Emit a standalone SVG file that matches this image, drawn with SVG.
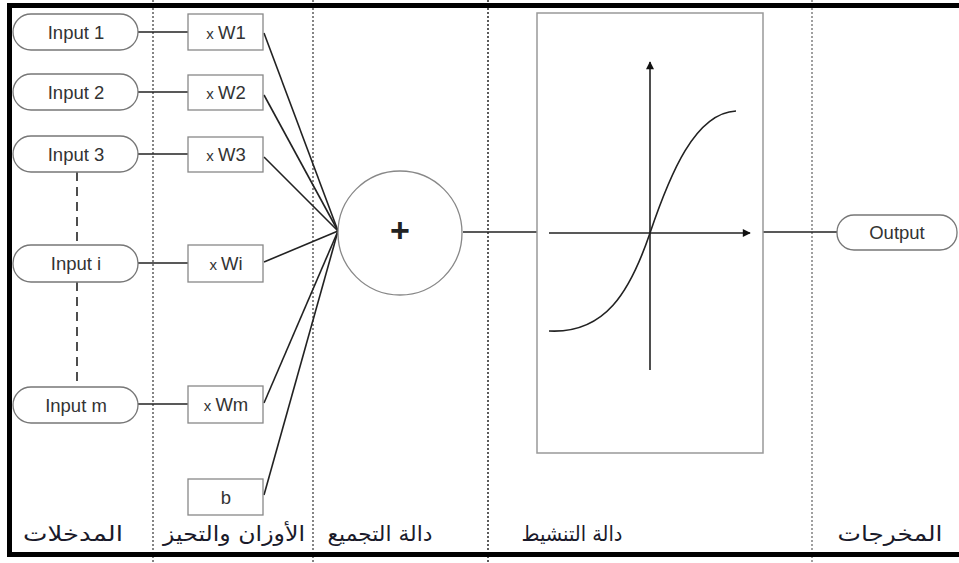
<svg xmlns="http://www.w3.org/2000/svg" width="959" height="563" viewBox="0 0 959 563">
<style>
.pill{fill:#fff;stroke:#777;stroke-width:1.3}
.box{fill:#fff;stroke:#888;stroke-width:1.3}
.t{font-family:"Liberation Sans",Arial,sans-serif;font-size:18.5px;fill:#333;text-anchor:middle}
.x{font-size:15px}
.con{stroke:#222;stroke-width:1.6;fill:none}
.dot{stroke:#666;stroke-width:1.6;stroke-dasharray:2 2;fill:none}
.ar{font-family:"DejaVu Sans",sans-serif;font-size:21px;fill:#1a1a2a;text-anchor:middle}
</style>
<defs>
<marker id="ah" viewBox="0 0 10 10" refX="9" refY="5" markerWidth="10" markerHeight="8" markerUnits="userSpaceOnUse" orient="auto">
<path d="M0,0 L10,5 L0,10 z" fill="#111"/>
</marker>
</defs>
<rect width="959" height="563" fill="#fff"/>
<g id="separators">
<line class="dot" x1="153" y1="0" x2="153" y2="563"/>
<line class="dot" x1="313" y1="0" x2="313" y2="563"/>
<line class="dot" x1="488" y1="0" x2="488" y2="563" style="stroke:#333"/>
<line class="dot" x1="812" y1="0" x2="812" y2="563" style="stroke:#888"/>
</g>
<g id="border">
<path d="M959,5.5 H9.5 V554.5 H959" fill="none" stroke="#000" stroke-width="5"/>
</g>
<g id="connectors">
<line class="con" x1="138" y1="32" x2="188" y2="32"/>
<line class="con" x1="138" y1="92" x2="188" y2="92"/>
<line class="con" x1="138" y1="154" x2="188" y2="154"/>
<line class="con" x1="138" y1="263" x2="188" y2="263"/>
<line class="con" x1="138" y1="404" x2="188" y2="404"/>
<path class="con" d="M77,172 V245 M77,282 V387" stroke-dasharray="9 6"/>
<line class="con" x1="264" y1="33" x2="338" y2="231"/>
<line class="con" x1="264" y1="95" x2="338" y2="231"/>
<line class="con" x1="264" y1="157" x2="338" y2="231"/>
<line class="con" x1="264" y1="262" x2="338" y2="231"/>
<line class="con" x1="264" y1="403" x2="338" y2="231"/>
<line class="con" x1="264" y1="495" x2="338" y2="231"/>
<line class="con" x1="463" y1="232" x2="537" y2="232"/>
<line class="con" x1="763" y1="232" x2="837" y2="232"/>
</g>
<g id="input1"><rect class="pill" x="13" y="14" width="125" height="36" rx="18"/><text class="t" x="76" y="38.5">Input 1</text></g>
<g id="input2"><rect class="pill" x="13" y="74" width="125" height="36" rx="18"/><text class="t" x="76" y="98.5">Input 2</text></g>
<g id="input3"><rect class="pill" x="13" y="136" width="125" height="36" rx="18"/><text class="t" x="76" y="160.5">Input 3</text></g>
<g id="inputi"><rect class="pill" x="13" y="245" width="125" height="37" rx="18"/><text class="t" x="76" y="270">Input i</text></g>
<g id="inputm"><rect class="pill" x="13" y="387" width="125" height="36" rx="18"/><text class="t" x="76" y="411.5">Input m</text></g>
<g id="w1"><rect class="box" x="188" y="14" width="75" height="36"/><text class="t" x="226" y="38.5"><tspan class="x">x </tspan>W1</text></g>
<g id="w2"><rect class="box" x="188" y="75" width="75" height="35"/><text class="t" x="226" y="99"><tspan class="x">x </tspan>W2</text></g>
<g id="w3"><rect class="box" x="188" y="137" width="75" height="35"/><text class="t" x="226" y="161"><tspan class="x">x </tspan>W3</text></g>
<g id="wi"><rect class="box" x="188" y="245" width="75" height="37"/><text class="t" x="226" y="270"><tspan class="x">x </tspan>Wi</text></g>
<g id="wm"><rect class="box" x="188" y="386" width="75" height="37"/><text class="t" x="226" y="411"><tspan class="x">x </tspan>Wm</text></g>
<g id="bias"><rect class="box" x="188" y="479" width="75" height="36"/><text class="t" x="226" y="503.5">b</text></g>
<g id="sum"><circle cx="400" cy="233" r="62" fill="#fff" stroke="#888" stroke-width="1.3"/><text x="400" y="242" font-family="Liberation Sans,Arial,sans-serif" font-size="34" font-weight="bold" fill="#222" text-anchor="middle">+</text></g>
<g id="activation">
<rect x="537" y="13" width="226" height="440" fill="#fff" stroke="#999" stroke-width="1.5"/>
<line class="con" x1="549" y1="233" x2="750" y2="233" marker-end="url(#ah)"/>
<line class="con" x1="650" y1="370" x2="650" y2="62" marker-end="url(#ah)"/>
<path class="con" d="M549,331 C605,334 630,292 650,233 C670,174 695,113 736,111"/>
</g>
<g id="output"><rect class="pill" x="837" y="215" width="120" height="35" rx="17"/><text class="t" x="897" y="239">Output</text></g>
<g id="labels">
<text class="ar" x="73" y="541" textLength="100" lengthAdjust="spacingAndGlyphs">المدخلات</text>
<text class="ar" x="234" y="541" textLength="142" lengthAdjust="spacingAndGlyphs">الأوزان والتحيز</text>
<text class="ar" x="380" y="541" textLength="105" lengthAdjust="spacingAndGlyphs">دالة التجميع</text>
<text class="ar" x="572" y="541" textLength="101" lengthAdjust="spacingAndGlyphs">دالة التنشيط</text>
<text class="ar" x="890" y="541" textLength="105" lengthAdjust="spacingAndGlyphs">المخرجات</text>
</g>
</svg>
